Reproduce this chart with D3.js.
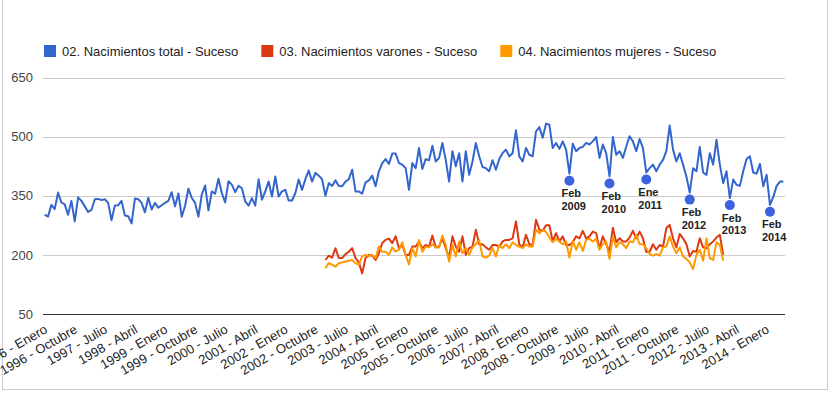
<!doctype html>
<html>
<head>
<meta charset="utf-8">
<script src="https://d3js.org/d3.v7.min.js"></script>
<style>
body { margin: 0; background: #fff; }
svg { font-family: "Liberation Sans", Arial, sans-serif; }
</style>
</head>
<body>
<svg width="835" height="396"></svg>

<script>
// months / categories
var meses = ["Enero", "Febrero", "Marzo", "Abril", "Mayo", "Junio", "Julio",
             "Agosto", "Septiembre", "Octubre", "Noviembre", "Diciembre"];
var primerAnio = 1996, nMeses = 222; // 1996 - Enero .. 2014 - Junio

// 02. Nacimientos total - Suceso (from 1996 - Enero)
var total = [
  302, 297, 327, 316, 358, 333, 328, 302, 337, 285, 346, 337,
  323, 309, 314, 341, 342, 339, 341, 332, 288, 325, 326, 337,
  300, 298, 280, 343, 341, 332, 308, 345, 315, 332, 320, 326,
  332, 337, 359, 323, 356, 297, 324, 368, 345, 332, 297, 353,
  376, 313, 361, 355, 393, 357, 333, 387, 378, 359, 375, 369,
  336, 325, 344, 325, 392, 340, 361, 386, 348, 399, 348, 361,
  365, 338, 338, 357, 391, 365, 392, 414, 386, 408, 401, 392,
  350, 382, 375, 389, 375, 374, 386, 392, 416, 361, 361, 355,
  384, 389, 401, 374, 412, 433, 443, 431, 457, 457, 433, 429,
  420, 365, 433, 420, 471, 418, 443, 440, 477, 437, 446, 484,
  441, 386, 463, 425, 458, 386, 463, 403, 437, 484, 450, 423,
  420, 412, 440, 416, 443, 458, 467, 450, 458, 516, 450, 437,
  471, 454, 450, 513, 524, 497, 533, 530, 471, 484, 469, 488,
  467, 406, 482, 463, 471, 474, 484, 480, 488, 499, 446, 480,
  458, 399, 499, 454, 463, 446, 475, 501, 488, 463, 494, 471,
  409, 420, 429, 412, 429, 441, 463, 528, 467, 437, 458, 429,
  399, 358, 420, 412, 474, 409, 403, 458, 429, 492, 429, 382,
  412, 344, 391, 378, 375, 412, 443, 450, 409, 406, 431, 374,
  403, 327, 347, 375, 386, 386
];

// 03. / 04. start in 2003 - Enero
var inicioSexo = "2003 - Enero";
var varones = [
  187, 198, 193, 217, 192, 192, 202, 208, 217, 192, 181, 153,
  192, 200, 198, 187, 204, 230, 238, 241, 230, 247, 217, 225,
  200, 200, 221, 221, 234, 217, 225, 221, 249, 219, 221, 242,
  217, 192, 247, 221, 208, 247, 200, 217, 221, 264, 227, 227,
  219, 213, 225, 225, 221, 234, 238, 238, 242, 285, 227, 219,
  251, 227, 225, 289, 264, 261, 275, 275, 234, 255, 234, 247,
  225, 225, 232, 247, 242, 261, 242, 247, 259, 255, 217, 247,
  227, 208, 269, 232, 242, 234, 234, 244, 261, 242, 259, 242,
  207, 208, 227, 213, 225, 221, 268, 276, 242, 219, 253, 242,
  227, 196, 210, 208, 242, 219, 217, 227, 234, 244, 251, 200
];
var mujeres = [
  166, 179, 175, 170, 179, 181, 183, 185, 187, 179, 175, 196,
  200, 196, 200, 192, 221, 208, 208, 200, 219, 208, 213, 232,
  200, 176, 217, 196, 238, 208, 221, 219, 227, 219, 219, 249,
  225, 183, 225, 196, 234, 204, 217, 200, 219, 227, 238, 196,
  193, 198, 217, 196, 225, 217, 227, 217, 232, 225, 221, 217,
  227, 221, 221, 264, 255, 264, 258, 244, 232, 241, 234, 227,
  234, 193, 236, 213, 232, 210, 238, 241, 234, 241, 213, 227,
  234, 190, 247, 219, 232, 227, 217, 234, 232, 251, 227, 227,
  217, 202, 198, 202, 198, 219, 221, 247, 221, 204, 219, 196,
  190, 181, 164, 200, 213, 185, 242, 192, 187, 232, 225, 185
];

var seriesNames = ["02. Nacimientos total - Suceso",
                   "03. Nacimientos varones - Suceso",
                   "04. Nacimientos mujeres - Suceso"];
var colors = ["#3366cc", "#dc3912", "#ff9900"];
var yTicks = [50, 200, 350, 500, 650];

// annotated lows of the total series
var anotaciones = [
  {mes: "2009 - Febrero", texto: ["Feb", "2009"]},
  {mes: "2010 - Febrero", texto: ["Feb", "2010"]},
  {mes: "2011 - Enero",   texto: ["Ene", "2011"]},
  {mes: "2012 - Febrero", texto: ["Feb", "2012"]},
  {mes: "2013 - Febrero", texto: ["Feb", "2013"]},
  {mes: "2014 - Febrero", texto: ["Feb", "2014"]}
];

var categories = [];
for (var k = 0; k < nMeses; k++) {
  categories.push((primerAnio + Math.floor(k / 12)) + " - " + meses[k % 12]);
}
var tickLabels = categories.filter(function (d, i) { return i % 9 === 0; });

var svg = d3.select("svg");
var plotLeft = 43, plotRight = 785, plotTop = 77.5, plotBottom = 314;

var x = d3.scalePoint().domain(categories).range([plotLeft, plotRight]).padding(0.5);
var y = d3.scaleLinear().domain([50, 650]).range([plotBottom, plotTop]);

// frame
svg.append("path")
  .attr("d", "M2.5,0V389.5H827.5V0")
  .attr("fill", "none")
  .attr("stroke", "#cccccc");

// gridlines + y labels
var yAxis = svg.append("g")
  .attr("transform", "translate(" + plotLeft + ",0)")
  .call(d3.axisLeft(y).tickValues(yTicks).tickSize(-(plotRight - plotLeft)).tickPadding(10));
yAxis.select(".domain").remove();
yAxis.selectAll("line")
  .attr("stroke", function (d) { return d === 50 ? "#333" : "#cccccc"; })
  .attr("shape-rendering", "crispEdges");
yAxis.selectAll("text")
  .attr("fill", "#444")
  .style("font-size", "13px")
  .style("font-family", "Liberation Sans, Arial, sans-serif");

// x labels, slanted
var xAxis = svg.append("g")
  .attr("transform", "translate(0," + 332 + ")")
  .call(d3.axisBottom(x).tickValues(tickLabels).tickSize(0).tickPadding(0));
xAxis.select(".domain").remove();
xAxis.selectAll("text")
  .attr("fill", "#222")
  .attr("y", 0)
  .attr("dy", 0)
  .style("font-size", "13px")
  .style("font-family", "Liberation Sans, Arial, sans-serif")
  .attr("text-anchor", "end")
  .attr("transform", "translate(3,0) rotate(-30)");

// lines
var offset = categories.indexOf(inicioSexo);
var line = d3.line()
  .x(function (d) { return x(d.c); })
  .y(function (d) { return y(d.v); });

function toPoints(vals, start) {
  return vals.map(function (v, i) { return {c: categories[start + i], v: v}; });
}
var seriesData = [toPoints(total, 0), toPoints(varones, offset), toPoints(mujeres, offset)];

svg.append("g").selectAll("path")
  .data(seriesData)
  .enter().append("path")
  .attr("d", line)
  .attr("fill", "none")
  .attr("stroke", function (d, i) { return colors[i]; })
  .attr("stroke-width", 2)
  .attr("stroke-linejoin", "round");

// annotations
var ann = svg.append("g").selectAll("g")
  .data(anotaciones)
  .enter().append("g")
  .attr("transform", function (d) {
    var v = total[categories.indexOf(d.mes)];
    return "translate(" + x(d.mes) + "," + (y(v) + 7) + ")";
  });
ann.append("circle")
  .attr("r", 5)
  .attr("fill", "#3d62e0");
ann.selectAll("text")
  .data(function (d) { return d.texto; })
  .enter().append("text")
  .attr("x", -8)
  .attr("y", function (d, i) { return 16.5 + i * 12.8; })
  .attr("fill", "#222")
  .style("font-size", "11px")
  .style("font-weight", "bold")
  .text(function (d) { return d; });

// legend
var lx = 44;
seriesNames.forEach(function (name, i) {
  svg.append("rect")
    .attr("x", lx).attr("y", 45)
    .attr("width", 12).attr("height", 12)
    .attr("fill", colors[i]);
  var t = svg.append("text")
    .attr("x", lx + 18).attr("y", 55.5)
    .attr("fill", "#222")
    .style("font-size", "13px")
    .text(name);
  lx = lx + 18 + t.node().getComputedTextLength() + 23;
});
</script>
</body>
</html>
